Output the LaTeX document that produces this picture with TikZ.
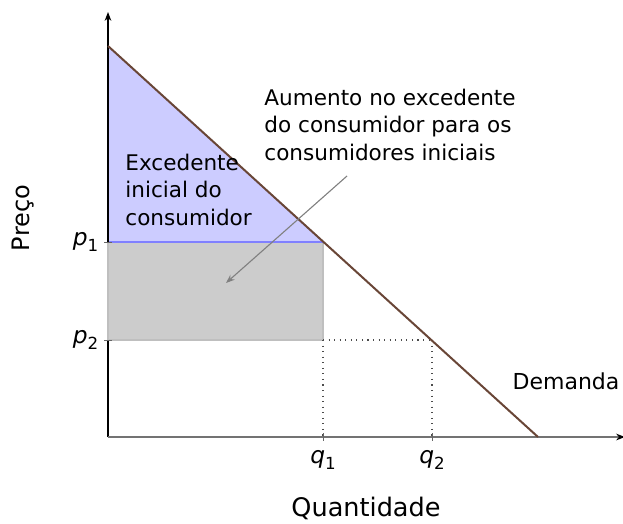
\documentclass[tikz,border=0pt]{standalone}
\usepackage{fontspec}
\setmainfont{DejaVu Sans}
\usetikzlibrary{arrows.meta,calc}
\definecolor{dem}{RGB}{105,70,55}
\newcommand{\sv}[2]{\textit{#1}\raisebox{-0.25em}{\fontsize{7.5}{8}\selectfont #2}}
\begin{document}
\begin{tikzpicture}[x=0.45pt,y=-0.45pt,
  axisy/.style={draw=black, line width=0.5pt, -{Stealth[length=4pt,width=3pt]}},
  axisx/.style={draw=black!55, line width=0.8pt, -{Stealth[length=4pt,width=3pt,color=black]}},
  tick/.style={draw=black!60, line width=0.4pt},
  guide/.style={draw=black!70, dotted, line width=0.5pt},
  lbl/.style={font=\fontsize{10.5}{12}\selectfont, inner sep=1pt},
  dlbl/.style={font=\fontsize{9.9}{12}\selectfont, inner sep=1pt},
  big/.style={font=\fontsize{11.5}{14}\selectfont, inner sep=1pt},
  bigy/.style={font=\fontsize{10.8}{14}\selectfont, inner sep=1pt},
  demand/.style={draw=dem, line width=0.9pt},
  note/.style={font=\fontsize{9.7}{12.2}\selectfont, align=left, inner sep=0pt, anchor=north west}]
\useasboundingbox (0,0) rectangle (623,523);
\coordinate (O) at (108,437);
\coordinate (Ytop) at (108,12);
\coordinate (Xend) at (625,437);
\coordinate (D0) at (108,46);
\coordinate (D1) at (538,437);
\coordinate (P1) at (108,242);
\coordinate (P2) at (108,340);
\coordinate (E1) at (323,242);
\coordinate (E1b) at (323,340);
\coordinate (E2) at (432,340);
\coordinate (Q1) at (323,437);
\coordinate (Q2) at (432,437);
% areas
\fill[blue!20] (D0) -- (E1) -- (P1) -- cycle;
\filldraw[fill=black!20, draw=black!25, line width=0.5pt] (P1) rectangle (E1b);
\draw[blue, line width=0.5pt] (D0) -- (P1);
\draw[blue!50, line width=0.5pt] (P1) -- (E1);
% guides
\draw[guide] (E1b) -- (Q1);
\draw[guide] (E1b) -- (E2);
\draw[guide] (E2) -- (Q2);
% axes
\draw[axisy] (P1) -- (Ytop);
\draw[axisy,-] (O) -- (P2);
\draw[axisx] (O) -- (Xend);
\draw[tick] ($(P1)+(-4,0)$) -- ($(P1)+(4,0)$);
\draw[tick] ($(P2)+(-4,0)$) -- ($(P2)+(4,0)$);
\draw[tick] ($(Q1)+(0,-4)$) -- ($(Q1)+(0,4)$);
\draw[tick] ($(Q2)+(0,-4)$) -- ($(Q2)+(0,4)$);
% demand
\draw[demand] (D0) -- (D1);
% labels
\node[lbl, anchor=east] (lp1) at (101,242) {\sv{p}{1}};
\node[lbl, anchor=east] (lp2) at (101,340) {\sv{p}{2}};
\node[lbl, anchor=north] (lq1) at (323,448) {\sv{q}{1}};
\node[lbl, anchor=north] (lq2) at (432,448) {\sv{q}{2}};
\node[bigy, rotate=90] (ly) at (23,218) {Preço};
\node[big] (lx) at (366,508) {Quantidade};
\node[dlbl] (ld) at (566,381) {Demanda};
\node[note] (exc) at (125,154) {Excedente\\inicial do\\consumidor};
\node[note] (aum) at (264,89) {Aumento no excedente\\do consumidor para os\\consumidores iniciais};
\coordinate (arS) at (347,176);
\coordinate (arE) at (226,283);
\draw[draw=black!50, line width=0.5pt, -{Stealth[length=4pt,width=3pt]}] (arS) -- (arE);
\end{tikzpicture}
\end{document}
